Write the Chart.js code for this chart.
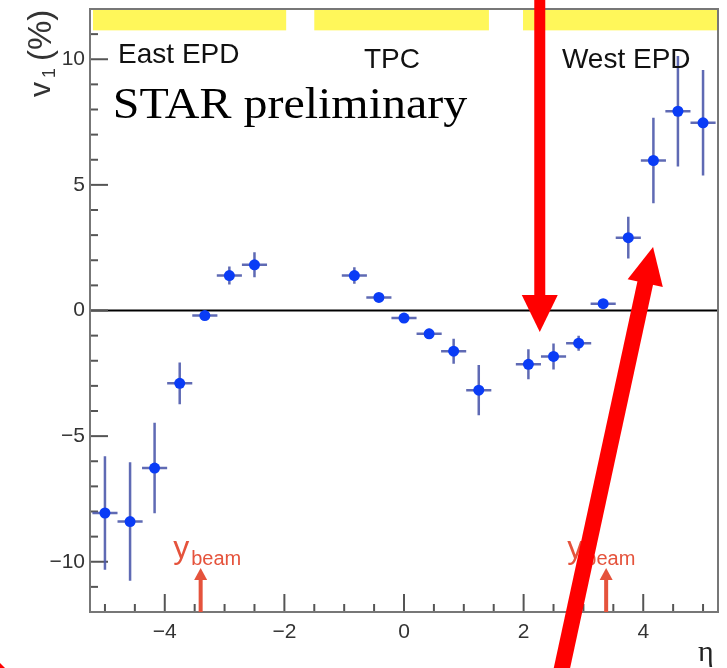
<!DOCTYPE html>
<html>
<head>
<meta charset="utf-8">
<script src="https://cdn.jsdelivr.net/npm/chart.js@4.4.1/dist/chart.umd.min.js"></script>
<style>
  html, body { margin: 0; padding: 0; background: #fff; }
  #wrap { position: relative; width: 727px; height: 668px; }
</style>
</head>
<body>
<div id="wrap"><canvas id="v1Chart"></canvas></div>
<script>
const eta = [-5.0, -4.58, -4.17, -3.75, -3.33, -2.92, -2.5,
             -0.83, -0.42, 0.0, 0.42, 0.83, 1.25,
             2.08, 2.5, 2.92, 3.33, 3.75, 4.17, 4.58, 5.0];
const v1 = [-8.06, -8.4, -6.27, -2.9, -0.2, 1.39, 1.82,
            1.39, 0.52, -0.3, -0.93, -1.62, -3.17,
            -2.14, -1.83, -1.3, 0.27, 2.9, 5.97, 7.93, 7.47];
const v1Err = [2.26, 2.36, 1.8, 0.83, 0.15, 0.36, 0.5,
               0.33, 0.15, 0.15, 0.2, 0.5, 1.0,
               0.6, 0.52, 0.3, 0.1, 0.83, 1.7, 2.2, 2.1];
const etaErr = 0.21;

const xTicks = [-4, -2, 0, 2, 4];
const yTicks = [-10, -5, 0, 5, 10];

// detector coverage (yellow bars) and their labels
const detectorNames = ["East EPD", "TPC", "West EPD"];
const detectorRanges = [[-5.2, -1.97], [-1.5, 1.42], [1.99, 5.25]];
const detectorLabelPos = [[-4.78, 9.86], [-0.67, 9.65], [2.64, 9.65]];

// beam rapidity markers
const yBeam = [-3.4, 3.38];
const yBeamLabelX = [-3.86, 2.73];

// red markup arrows on top of the figure: [eta0, v0, eta1, v1]
const markArrows = [[2.27, 12.5, 2.27, -0.86], [2.625, -14.4, 4.164, 2.53]];

const sansFont = "'Liberation Sans', Arial, sans-serif";
const serifFont = "'Liberation Serif', 'Times New Roman', serif";

function fmtTick(v) {
  return String(v).replace("-", "\u2212");
}

function drawArrow(ctx, x0, y0, x1, y1, width, headLen, headHalf, color) {
  const ang = Math.atan2(y1 - y0, x1 - x0);
  const len = Math.hypot(x1 - x0, y1 - y0);
  ctx.save();
  ctx.translate(x0, y0);
  ctx.rotate(ang);
  ctx.fillStyle = color;
  ctx.fillRect(0, -width / 2, len - headLen + 1, width);
  ctx.beginPath();
  ctx.moveTo(len, 0);
  ctx.lineTo(len - headLen, -headHalf);
  ctx.lineTo(len - headLen, headHalf);
  ctx.closePath();
  ctx.fill();
  ctx.restore();
}

// background bits, ticks and error bars
const decorPlugin = {
  id: "starDecor",
  beforeDatasetsDraw(chart) {
    const { ctx, chartArea: a, scales: { x, y } } = chart;
    ctx.save();

    // yellow detector bars
    ctx.fillStyle = "#fff75a";
    detectorRanges.forEach(r => {
      const x0 = x.getPixelForValue(r[0]);
      const x1 = x.getPixelForValue(r[1]);
      const yTop = y.getPixelForValue(12);
      const yBot = y.getPixelForValue(11.15);
      ctx.fillRect(x0, yTop, x1 - x0, yBot - yTop);
    });

    // v1 = 0 line
    ctx.strokeStyle = "#000";
    ctx.lineWidth = 2;
    ctx.beginPath();
    ctx.moveTo(a.left, y.getPixelForValue(0));
    ctx.lineTo(a.right, y.getPixelForValue(0));
    ctx.stroke();

    // inward tick marks
    ctx.strokeStyle = "#555";
    ctx.lineWidth = 2;
    for (let k = -10; k <= 10; k++) {
      const px = x.getPixelForValue(k / 2);
      const len = k % 4 === 0 ? 18 : 8;
      ctx.beginPath();
      ctx.moveTo(px, a.bottom);
      ctx.lineTo(px, a.bottom - len);
      ctx.stroke();
    }
    for (let k = -11; k <= 11; k++) {
      const py = y.getPixelForValue(k);
      const len = k % 5 === 0 ? 18 : 8;
      ctx.beginPath();
      ctx.moveTo(a.left, py);
      ctx.lineTo(a.left + len, py);
      ctx.stroke();
    }

    // error bars
    ctx.strokeStyle = "rgba(78, 90, 172, 0.9)";
    ctx.lineWidth = 2.5;
    eta.forEach((e, i) => {
      const px = x.getPixelForValue(e);
      const py = y.getPixelForValue(v1[i]);
      ctx.beginPath();
      ctx.moveTo(x.getPixelForValue(e - etaErr), py);
      ctx.lineTo(x.getPixelForValue(e + etaErr), py);
      ctx.moveTo(px, y.getPixelForValue(v1[i] - v1Err[i]));
      ctx.lineTo(px, y.getPixelForValue(v1[i] + v1Err[i]));
      ctx.stroke();
    });
    ctx.restore();
  },

  afterDraw(chart) {
    const { ctx, chartArea: a, scales: { x, y } } = chart;
    ctx.save();

    // frame
    ctx.strokeStyle = "#777";
    ctx.lineWidth = 2;
    ctx.strokeRect(a.left, a.top, a.right - a.left, a.bottom - a.top);

    // detector labels
    ctx.fillStyle = "#111";
    ctx.font = "28px " + sansFont;
    ctx.textBaseline = "alphabetic";
    ctx.textAlign = "left";
    detectorNames.forEach((name, i) => {
      const p = detectorLabelPos[i];
      ctx.fillText(name, x.getPixelForValue(p[0]), y.getPixelForValue(p[1]));
    });

    // STAR preliminary
    ctx.save();
    ctx.translate(x.getPixelForValue(-4.87), y.getPixelForValue(7.66));
    ctx.scale(1.09, 1);
    ctx.font = "44px " + serifFont;
    ctx.fillStyle = "#000";
    ctx.fillText("STAR preliminary", 0, 0);
    ctx.restore();

    // y_beam arrows and labels
    const beamColor = "#e5533c";
    yBeam.forEach((yb, i) => {
      const px = x.getPixelForValue(yb);
      drawArrow(ctx, px, a.bottom, px, y.getPixelForValue(-10.25), 4, 12, 6.5, beamColor);
      const lx = x.getPixelForValue(yBeamLabelX[i]);
      const by = y.getPixelForValue(-9.85);
      ctx.fillStyle = beamColor;
      ctx.font = "32px " + sansFont;
      ctx.fillText("y", lx, by);
      ctx.font = "20px " + sansFont;
      ctx.fillText("beam", lx + 18, by + 7);
    });

    // axis titles
    ctx.fillStyle = "#333";
    ctx.save();
    ctx.translate(50, 97);
    ctx.rotate(-Math.PI / 2);
    ctx.font = "30px " + sansFont;
    ctx.fillText("v", 0, 0);
    ctx.font = "18px " + sansFont;
    ctx.fillText("1", 19, 5);
    ctx.font = "33px " + sansFont;
    ctx.fillText("(%)", 36, 1);
    ctx.restore();

    ctx.fillStyle = "#222";
    ctx.font = "30px " + serifFont;
    ctx.fillText("\u03b7", 698, 661);

    // red markup arrows
    markArrows.forEach((m, i) => {
      const w = i === 0 ? 11 : 16;
      drawArrow(ctx, x.getPixelForValue(m[0]), y.getPixelForValue(m[1]),
                x.getPixelForValue(m[2]), y.getPixelForValue(m[3]),
                w, 37, 18, "#ff0000");
    });
    ctx.fillStyle = "#ff0000";
    ctx.beginPath();
    ctx.moveTo(0, 663);
    ctx.lineTo(5, 668);
    ctx.lineTo(0, 668);
    ctx.closePath();
    ctx.fill();

    ctx.restore();
  }
};

const ctx = document.getElementById("v1Chart").getContext("2d");

new Chart(ctx, {
  type: "scatter",
  data: {
    datasets: [{
      data: eta.map((e, i) => ({ x: e, y: v1[i] })),
      pointRadius: 5.5,
      pointHoverRadius: 5.5,
      pointBackgroundColor: "#0a3cf6",
      pointBorderWidth: 0
    }]
  },
  options: {
    responsive: true,
    maintainAspectRatio: false,
    animation: false,
    events: [],
    layout: { padding: { top: 9, right: 9, left: 0, bottom: 0 } },
    plugins: {
      legend: { display: false },
      tooltip: { enabled: false }
    },
    scales: {
      x: {
        type: "linear",
        min: -5.25,
        max: 5.25,
        afterFit: s => { s.height = 56; s.paddingLeft = 0; s.paddingRight = 0; },
        afterBuildTicks: s => { s.ticks = xTicks.map(v => ({ value: v })); },
        grid: { display: false, drawTicks: false },
        border: { display: false },
        ticks: {
          padding: 8,
          color: "#333",
          font: { family: sansFont, size: 21 },
          maxRotation: 0,
          autoSkip: false,
          callback: fmtTick
        }
      },
      y: {
        type: "linear",
        min: -12,
        max: 12,
        afterFit: s => { s.width = 90; s.paddingTop = 0; s.paddingBottom = 0; },
        afterBuildTicks: s => { s.ticks = yTicks.map(v => ({ value: v })); },
        grid: { display: false, drawTicks: false },
        border: { display: false },
        ticks: {
          padding: 5,
          color: "#333",
          font: { family: sansFont, size: 21 },
          autoSkip: false,
          callback: fmtTick
        }
      }
    }
  },
  plugins: [decorPlugin]
});
</script>
</body>
</html>
